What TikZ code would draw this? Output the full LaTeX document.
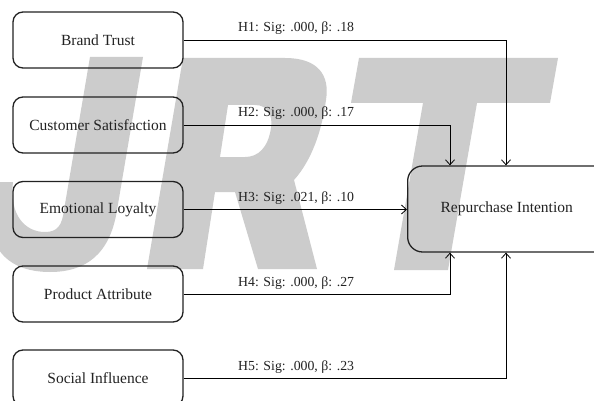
\documentclass[tikz,border=0pt]{standalone}
\usepackage{fontspec}
\setmainfont{Liberation Serif}
\usetikzlibrary{arrows.meta}
\definecolor{wmgray}{RGB}{204,204,204}
\definecolor{ink}{RGB}{34,34,34}
\begin{document}
\begin{tikzpicture}[x=1pt,y=-1pt,
  wm/.style={fill=wmgray, draw=none},
  box/.style={draw=ink, line width=1.3pt, rounded corners=10pt, minimum width=170pt, minimum height=56pt, inner sep=0pt, font=\fontsize{15.5}{18}\selectfont, text=ink},
  bigbox/.style={box, rounded corners=15pt, minimum width=230pt, minimum height=86pt, text width=164pt, inner xsep=33pt, align=flush left, anchor=west},
  lbl/.style={font=\fontsize{13.8}{16}\selectfont, text=ink, inner sep=0pt, anchor=base west},
  conn/.style={draw=black, line width=0.8pt, -{Straight Barb[length=5pt,width=9pt]}}]
\useasboundingbox (0,0) rectangle (594,401);
\fill[white] (0,0) rectangle (594,401);
% watermark JRT
\fill[wm] (90,57) -- (143,57) -- (117,210) .. controls (110,255) and (85,272) .. (50,272) .. controls (10,272) and (-12,250) .. (-8,215) -- (-3,182) -- (13,182) .. controls (9,215) and (25,232) .. (45,232) .. controls (58,232) and (62,225) .. (64,210) -- cycle;
\fill[wm, even odd rule] (183,58) -- (285,58) .. controls (318,58) and (330,75) .. (326,100) .. controls (322,130) and (312,160) .. (294,180) -- (317,269) -- (258,269) -- (235,192) -- (215,192) -- (203,269) -- (147,269) -- cycle
  (228,105) -- (255,105) .. controls (268,105) and (273,116) .. (271,128) .. controls (268,148) and (258,157) .. (245,157) -- (220,157) -- cycle;
\fill[wm] (359,58) -- (558,58) -- (550,103) -- (477,103) -- (448,270) -- (394,270) -- (423,103) -- (351,103) -- cycle;
% nodes
\node[box] (bt) at (98,40) {Brand Trust};
\node[box] (cs) at (98,125) {Customer Satisfaction};
\node[box] (el) at (98,209.5) {Emotional Loyalty};
\node[box] (pa) at (98,294) {Product Attribute};
\node[box] (si) at (98,378) {Social Influence};
\node[bigbox] (ri) at (407,209) {Repurchase Intention};
\coordinate (c1) at (506,0);
\coordinate (c2) at (450,0);
% connectors
\draw[conn] (bt.east) -| (ri.north -| c1);
\draw[conn] (cs.east) -| (ri.north -| c2);
\draw[conn] (el.east) -- (el.east -| ri.west);
\draw[conn] (pa.east) -| (ri.south -| c2);
\draw[conn] (si.east) -| (ri.south -| c1);
% labels
\node[lbl] (l1) at (238,32) {H1: Sig: .000, β: .18};
\node[lbl] (l2) at (238,116.5) {H2: Sig: .000, β: .17};
\node[lbl] (l3) at (238,201) {H3: Sig: .021, β: .10};
\node[lbl] (l4) at (238,286) {H4: Sig: .000, β: .27};
\node[lbl] (l5) at (238,370) {H5: Sig: .000, β: .23};
\end{tikzpicture}
\end{document}
